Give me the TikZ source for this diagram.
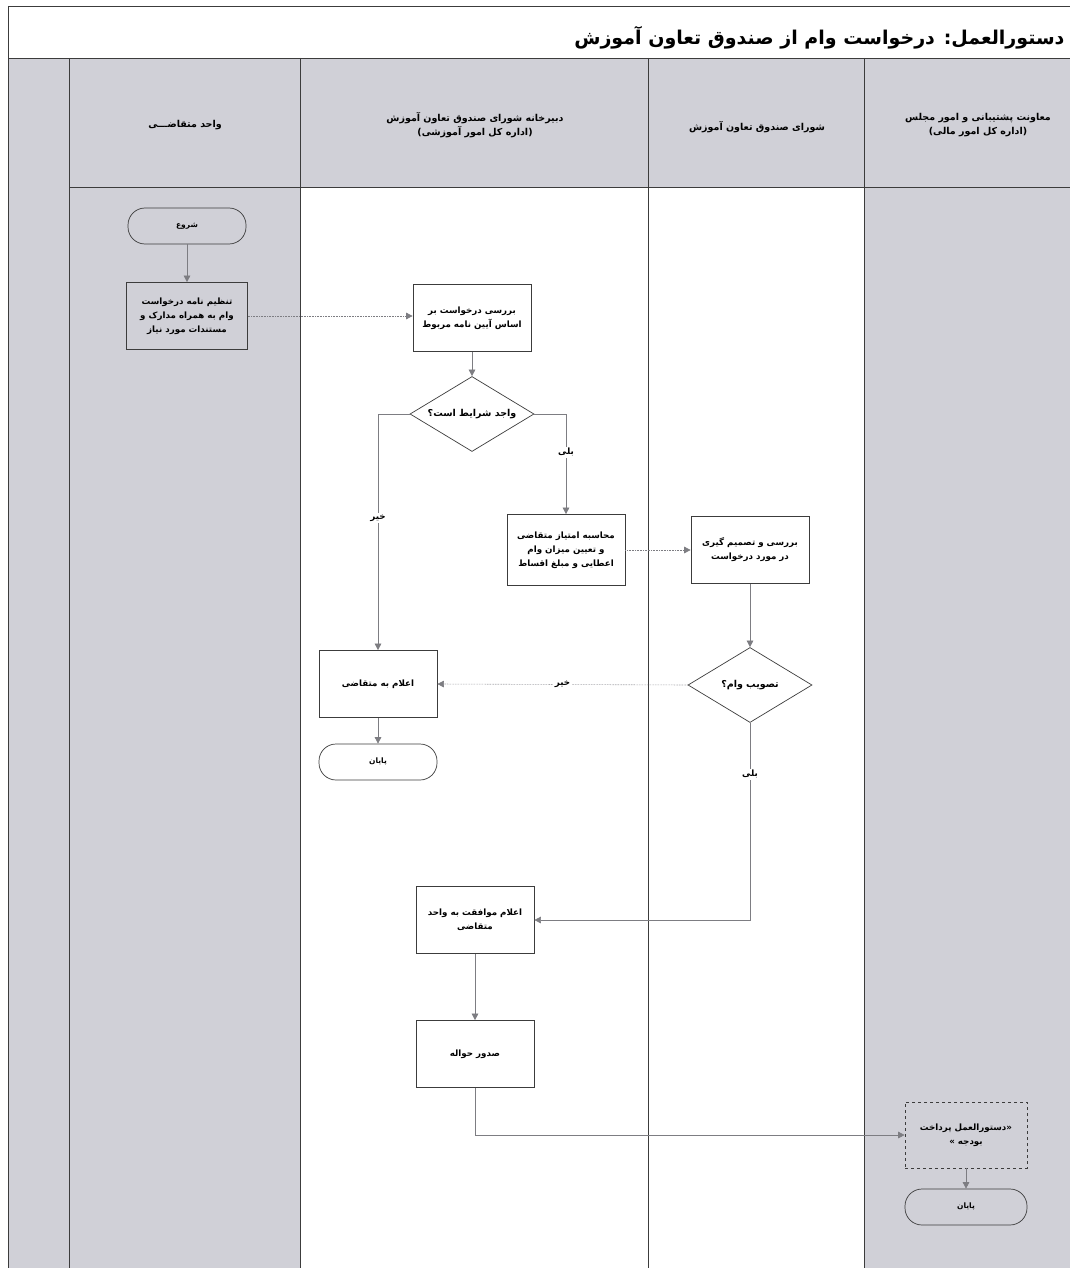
\documentclass[tikz,border=0pt]{standalone}
\usepackage{fontspec}
\usetikzlibrary{shapes.geometric,arrows.meta}
\newfontfamily\farsi[Script=Arabic]{DejaVu Sans}
\TeXXeTstate=1
\newcommand{\fa}[1]{{\farsi\bfseries\beginR #1\endR}}
\definecolor{lanegray}{RGB}{208,208,215}
\definecolor{linegray}{RGB}{125,125,130}
\definecolor{edgegray}{RGB}{60,60,60}

\begin{document}
\begin{tikzpicture}[x=1pt,y=1pt,yscale=-1,
  proc/.style={draw=edgegray,fill=white,line width=0.7pt,minimum width=118,minimum height=67,align=center,inner sep=2pt,font=\fontsize{8.7}{14}\selectfont},
  term/.style={draw=edgegray,fill=white,line width=0.7pt,rounded corners=17,minimum width=118,minimum height=36,font=\fontsize{7.5}{9}\selectfont},
  dec/.style={draw=edgegray,fill=white,line width=0.7pt,diamond,shape aspect=1.65,minimum width=124,minimum height=75,inner sep=0pt,font=\fontsize{9.5}{11}\selectfont},
  conn/.style={draw=linegray,line width=0.6pt,-{Triangle[width=6.5pt,length=6.5pt]}},
  lbl/.style={fill=white,inner sep=1.5pt,font=\fontsize{8.7}{10}\selectfont},
  head/.style={align=center,font=\fontsize{9.5}{14}\selectfont},
]
\useasboundingbox (0,0) rectangle (1070,1268);

%Shape: lanes
\fill [lanegray] (8,58) rectangle (1070,1268);
\fill [white] (300,187) rectangle (864,1268);
%Shape: frame and lane borders
\draw [edgegray,line width=0.9pt] (8,6) -- (1070,6) (8,6) -- (8,1268) (8,58) -- (1070,58);
\draw [edgegray,line width=0.8pt] (69,187) -- (1070,187) (69,58) -- (69,1268) (300,58) -- (300,1268) (648,58) -- (648,1268) (864,58) -- (864,1268);

% Text Node
\draw (1068,38) node [anchor=east,font=\fontsize{19}{22}\selectfont] {\fa{دستورالعمل: درخواست وام از صندوق تعاون آموزش}};
% Text Node
\draw (185,125) node [head] (hA) {\fa{واحد متقاضـــی}};
% Text Node
\draw (475,125) node [head] (hB) {\fa{دبیرخانه شورای صندوق تعاون آموزش}\\\fa{(اداره کل امور آموزشی)}};
% Text Node
\draw (757,127) node [head] (hC) {\fa{شورای صندوق تعاون آموزش}};
% Text Node
\draw (978,125) node [head] (hD) {\fa{معاونت پشتیبانی و امور مجلس}\\\fa{(اداره کل امور مالی)}};

%Shape: steps
\draw (187,226) node [term,fill=lanegray] (start) {\fa{شروع}};
\draw (187,316) node [proc,fill=lanegray,minimum width=121] (p1) {\fa{تنظیم نامه درخواست}\\\fa{وام به همراه مدارک و}\\\fa{مستندات مورد نیاز}};
\draw (472,318) node [proc] (p2) {\fa{بررسی درخواست بر}\\\fa{اساس آیین نامه مربوط}};
\draw (472,414) node [dec] (d1) {\fa{واجد شرایط است؟}};
\draw (566,550) node [proc,minimum height=71] (p3) {\fa{محاسبه امتیاز متقاضی}\\\fa{و تعیین میزان وام}\\\fa{اعطایی و مبلغ اقساط}};
\draw (750,550) node [proc] (p4) {\fa{بررسی  و تصمیم گیری}\\\fa{در مورد درخواست}};
\draw (750,685) node [dec] (d2) {\fa{تصویب وام؟}};
\draw (378,684) node [proc] (p5) {\fa{اعلام به متقاضی}};
\draw (378,762) node [term] (end1) {\fa{پایان}};
\draw (475,920) node [proc] (p6) {\fa{اعلام موافقت به واحد}\\\fa{متقاضی}};
\draw (475,1054) node [proc] (p7) {\fa{صدور حواله}};
\draw (966,1135) node [proc,dashed,fill=lanegray,minimum width=122,minimum height=66] (p8) {\fa{«دستورالعمل پرداخت}\\\fa{بودجه »}};
\draw (966,1207) node [term,fill=lanegray,minimum width=122] (end2) {\fa{پایان}};

%Straight Lines: connectors
\draw [conn] (start) -- (p1);
\draw [conn,densely dotted] (p1.east) -- (p1.east -| p2.west);
\draw [conn] (p2) -- (d1);
\draw [conn] (d1.east) -| (p3.north) node [lbl,pos=0.69] {\fa{بلی}};
\draw [conn] (d1.west) -| (p5.north) node [lbl,pos=0.72] {\fa{خیر}};
\draw [conn,densely dotted] (p3) -- (p4);
\draw [conn] (p4) -- (d2);
\draw [conn,densely dotted] (d2.west) -- (p5.east) node [lbl,midway] {\fa{خیر}};
\draw [conn] (p5) -- (end1);
\draw [conn] (d2.south) |- (p6.east) node [lbl,pos=0.13] {\fa{بلی}};
\draw [conn] (p6) -- (p7);
\draw [conn] (p7.south) |- (p8.west);
\draw [conn] (p8) -- (end2);

\end{tikzpicture}
\end{document}
